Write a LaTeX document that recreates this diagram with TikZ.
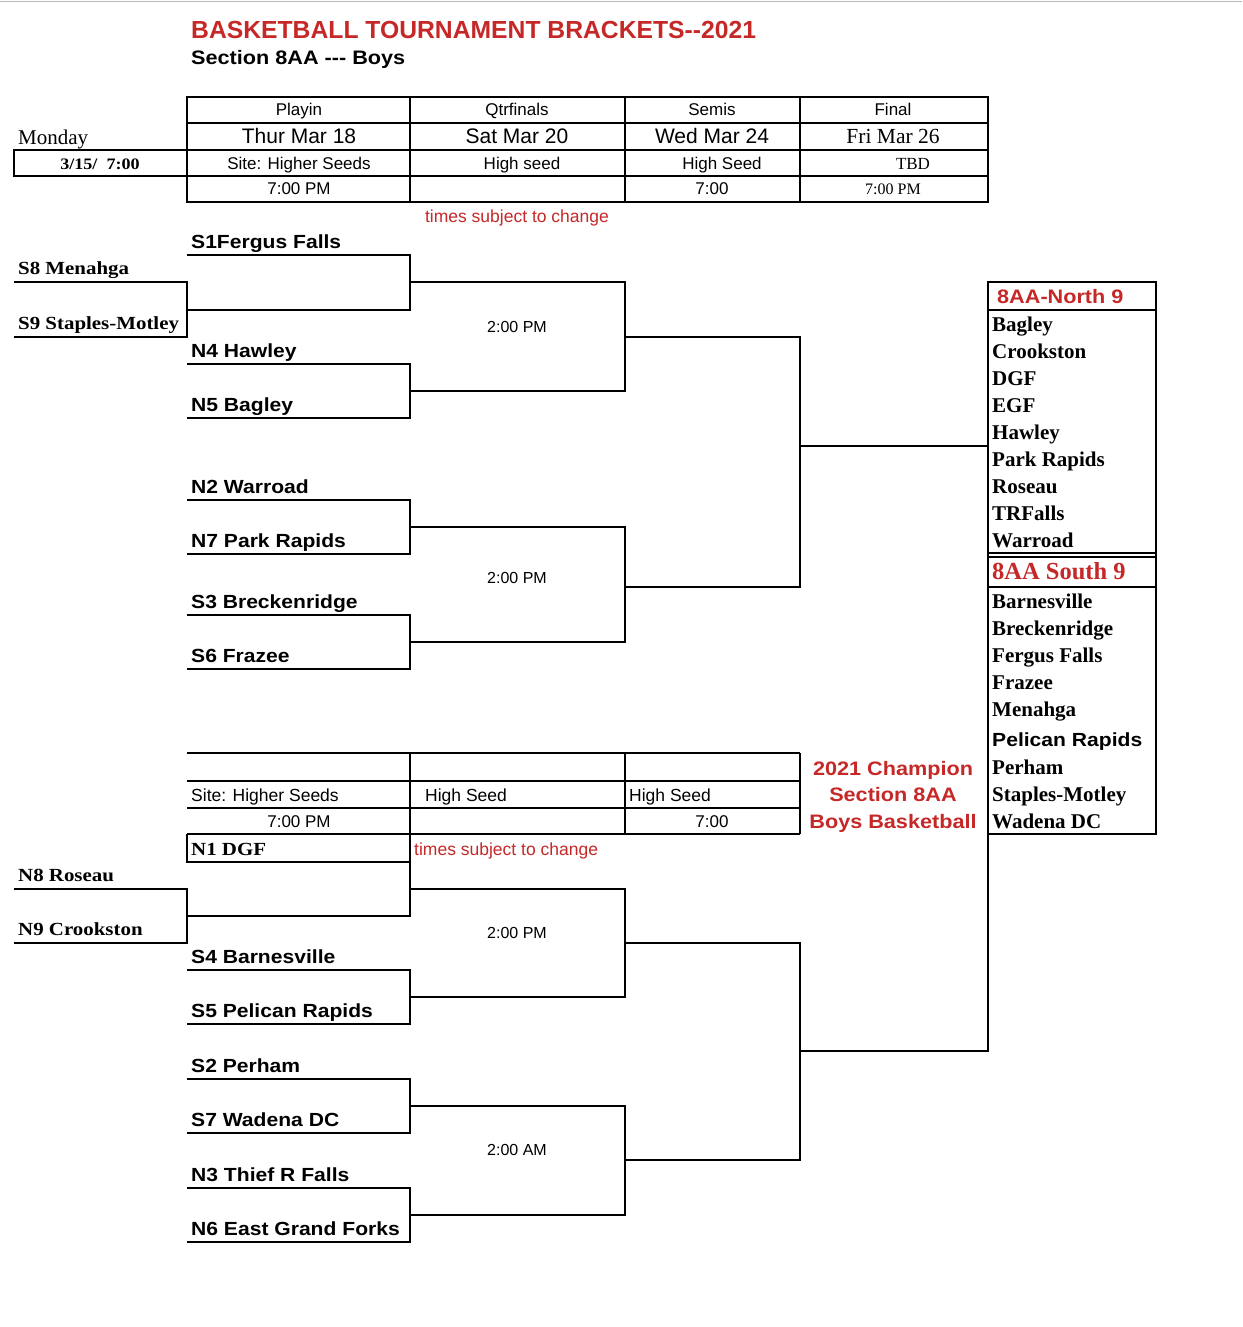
\documentclass[tikz,border=0pt]{standalone}
\usepackage{fontspec}
\setmainfont{Liberation Serif}
\setsansfont{Liberation Sans}
\newfontfamily\stsans{Liberation Sans}[FakeStretch=1.11]
\newfontfamily\stserif{Liberation Serif}[FakeStretch=1.13]
\newcommand\myfs[1]{\fontsize{#1}{#1}\selectfont}
\definecolor{brred}{RGB}{198,40,40}
\tikzset{
  br/.style={line width=2pt},
  tb/.style={line width=2.4pt},
  lbs/.style={anchor=base west, inner sep=0pt, font=\stsans\bfseries\myfs{19}},
  lbr/.style={anchor=base west, inner sep=0pt, font=\stserif\bfseries\myfs{18.5}},
  hsm/.style={anchor=base, inner sep=0pt, font=\sffamily\myfs{17}},
  hbig/.style={anchor=base, inner sep=0pt, font=\sffamily\myfs{21}},
  hserif/.style={anchor=base, inner sep=0pt, font=\myfs{17}},
  tm/.style={anchor=base, inner sep=0pt, font=\sffamily\myfs{16}},
  redsm/.style={inner sep=0pt, font=\sffamily\myfs{17.5}, text=brred},
  rname/.style={anchor=base west, inner sep=0pt, font=\bfseries\myfs{21}},
  champ/.style={anchor=base, inner sep=0pt, font=\stsans\bfseries\myfs{19.5}, text=brred},
}
\begin{document}
\begin{tikzpicture}[x=1pt,y=-1pt]
\useasboundingbox[fill=white] (0,0) rectangle (1242,1327);
\draw[gray!55, line width=1.5pt] (0,1.5) -- (1242,1.5);

% titles
\node[anchor=base west, inner sep=0pt, font=\sffamily\bfseries\myfs{24.7}, text=brred] (title) at (191,39) {BASKETBALL TOURNAMENT BRACKETS-{}-2021};
\node[anchor=base west, inner sep=0pt, font=\stsans\bfseries\myfs{19.5}] (subtitle) at (191,65) {Section 8AA -{}-{}- Boys};

% top header table
\draw[tb] (187,97) rectangle (988,202);
\foreach \yy in {123,150,176} \draw[tb] (187,\yy) -- (988,\yy);
\foreach \xx in {410,625,800} \draw[tb] (\xx,97) -- (\xx,202);
\draw[tb] (14,150) rectangle (187,176);
\node[anchor=base west, inner sep=0pt, font=\myfs{21}] (monday) at (18,144) {Monday};
\node[anchor=base, inner sep=0pt, font=\stserif\bfseries\myfs{16}] (mondate) at (100,169) {3/15/\ \ 7:00};

\node[hsm] (h1) at (299,116) {Playin};
\node[hsm] (h2) at (517,116) {Qtrfinals};
\node[hsm] (h3) at (712,116) {Semis};
\node[hsm] (h4) at (893,116) {Final};
\node[hbig] (d1) at (299,143.5) {Thur Mar 18};
\node[hbig] (d2) at (517,143.5) {Sat Mar 20};
\node[hbig] (d3) at (712,143.5) {Wed Mar 24};
\node[anchor=base, inner sep=0pt, font=\myfs{21.5}] (d4) at (893,143.5) {Fri Mar 26};
\node[hsm] (s1) at (299,169.5) {Site: Higher Seeds};
\node[hsm] (s2) at (522,169.5) {High seed};
\node[hsm] (s3) at (722,169.5) {High Seed};
\node[hserif] (s4) at (913,169.5) {TBD};
\node[hsm] (t1) at (299,194) {7:00 PM};
\node[hsm] (t3) at (712,194) {7:00};
\node[anchor=base, inner sep=0pt, font=\myfs{16}] (t4) at (893,194) {7:00 PM};
\node[redsm, anchor=base] (tsc1) at (517,222) {times subject to change};

% top bracket
\draw[br] (187,255) -- (410,255) -- (410,310) -- (187,310);
\draw[br] (14,282) -- (187,282) -- (187,337) -- (14,337);
\draw[br] (187,364) -- (410,364) -- (410,418) -- (187,418);
\draw[br] (410,282) -- (625,282) -- (625,391) -- (410,391);
\draw[br] (187,500) -- (410,500) -- (410,554) -- (187,554);
\draw[br] (187,615) -- (410,615) -- (410,669) -- (187,669);
\draw[br] (410,527) -- (625,527) -- (625,642) -- (410,642);
\draw[br] (625,337) -- (800,337) -- (800,587) -- (625,587);
\draw[br] (800,446) -- (988,446) -- (988,1051) -- (800,1051);

\node[lbs] (s1ff) at (191,248) {S1Fergus Falls};
\node[lbr] (s8) at (18,274) {S8 Menahga};
\node[lbr] (s9) at (18,329) {S9 Staples-Motley};
\node[lbs] (n4) at (191,357) {N4 Hawley};
\node[lbs] (n5) at (191,411) {N5 Bagley};
\node[lbs] (n2) at (191,493) {N2 Warroad};
\node[lbs] (n7) at (191,547) {N7 Park Rapids};
\node[lbs] (s3b) at (191,608) {S3 Breckenridge};
\node[lbs] (s6) at (191,662) {S6 Frazee};
\node[tm] (g1) at (517,332) {2:00 PM};
\node[tm] (g2) at (517,583) {2:00 PM};

% right box
\draw[tb] (988,282) rectangle (1156,834);
\draw[tb] (988,310) -- (1156,310);
\draw[tb] (988,553) -- (1156,553);
\draw[tb] (988,557) -- (1156,557);
\draw[tb] (988,587) -- (1156,587);
\node[anchor=base west, inner sep=0pt, font=\stsans\bfseries\myfs{19.5}, text=brred] (north) at (997,303) {8AA-North 9};
\node[rname] (r1) at (992,331) {Bagley};
\node[rname] (r2) at (992,358) {Crookston};
\node[rname] (r3) at (992,385) {DGF};
\node[rname] (r4) at (992,412) {EGF};
\node[rname] (r5) at (992,439) {Hawley};
\node[rname] (r6) at (992,466) {Park Rapids};
\node[rname] (r7) at (992,493) {Roseau};
\node[rname] (r8) at (992,520) {TRFalls};
\node[rname] (r9) at (992,547) {Warroad};
\node[anchor=base west, inner sep=0pt, font=\bfseries\myfs{24.5}, text=brred] (south) at (992,579) {8AA South 9};
\node[rname] (q1) at (992,608) {Barnesville};
\node[rname] (q2) at (992,635) {Breckenridge};
\node[rname] (q3) at (992,662) {Fergus Falls};
\node[rname] (q4) at (992,689) {Frazee};
\node[rname] (q5) at (992,716) {Menahga};
\node[anchor=base west, inner sep=0pt, font=\stsans\bfseries\myfs{19}] (q6) at (992,746) {Pelican Rapids};
\node[rname] (q7) at (992,774) {Perham};
\node[rname] (q8) at (992,801) {Staples-Motley};
\node[rname] (q9) at (992,828) {Wadena DC};

% champion
\node[champ] (c1) at (893,775) {2021 Champion};
\node[champ] (c2) at (893,801) {Section 8AA};
\node[champ] (c3) at (893,828) {Boys Basketball};

% lower header table
\foreach \yy in {753,781,808,834} \draw[tb] (187,\yy) -- (800,\yy);
\foreach \xx in {625,800} \draw[tb] (\xx,753) -- (\xx,834);
\draw[tb] (410,753) -- (410,834);
\node[anchor=base west, inner sep=0pt, font=\sffamily\myfs{17.5}] (ls1) at (191,801) {Site: Higher Seeds};
\node[anchor=base west, inner sep=0pt, font=\sffamily\myfs{17.5}] (ls2) at (425,801) {High Seed};
\node[anchor=base west, inner sep=0pt, font=\sffamily\myfs{17.5}] (ls3) at (629,801) {High Seed};
\node[hsm] (lt1) at (299,827) {7:00 PM};
\node[hsm] (lt3) at (712,827) {7:00};
\node[redsm, anchor=base west] (tsc2) at (414,855) {times subject to change};

% lower bracket
\draw[br] (187,834) -- (187,862) -- (410,862);
\draw[br] (410,834) -- (410,916) -- (187,916);
\draw[br] (14,889) -- (187,889) -- (187,943) -- (14,943);
\draw[br] (410,889) -- (625,889) -- (625,997) -- (410,997);
\draw[br] (187,970) -- (410,970) -- (410,1024) -- (187,1024);
\draw[br] (625,943) -- (800,943) -- (800,1160) -- (625,1160);
\draw[br] (187,1079) -- (410,1079) -- (410,1133) -- (187,1133);
\draw[br] (410,1106) -- (625,1106) -- (625,1215) -- (410,1215);
\draw[br] (187,1188) -- (410,1188) -- (410,1242) -- (187,1242);

\node[lbr] (n1) at (191,855) {N1 DGF};
\node[lbr] (n8) at (18,881) {N8 Roseau};
\node[lbr] (n9) at (18,935) {N9 Crookston};
\node[lbs] (s4) at (191,963) {S4 Barnesville};
\node[lbs] (s5) at (191,1017) {S5 Pelican Rapids};
\node[lbs] (s2) at (191,1072) {S2 Perham};
\node[lbs] (s7) at (191,1126) {S7 Wadena DC};
\node[lbs] (n3) at (191,1181) {N3 Thief R Falls};
\node[lbs] (n6) at (191,1235) {N6 East Grand Forks};
\node[tm] (g3) at (517,938) {2:00 PM};
\node[tm] (g4) at (517,1155) {2:00 AM};
\end{tikzpicture}
\end{document}
